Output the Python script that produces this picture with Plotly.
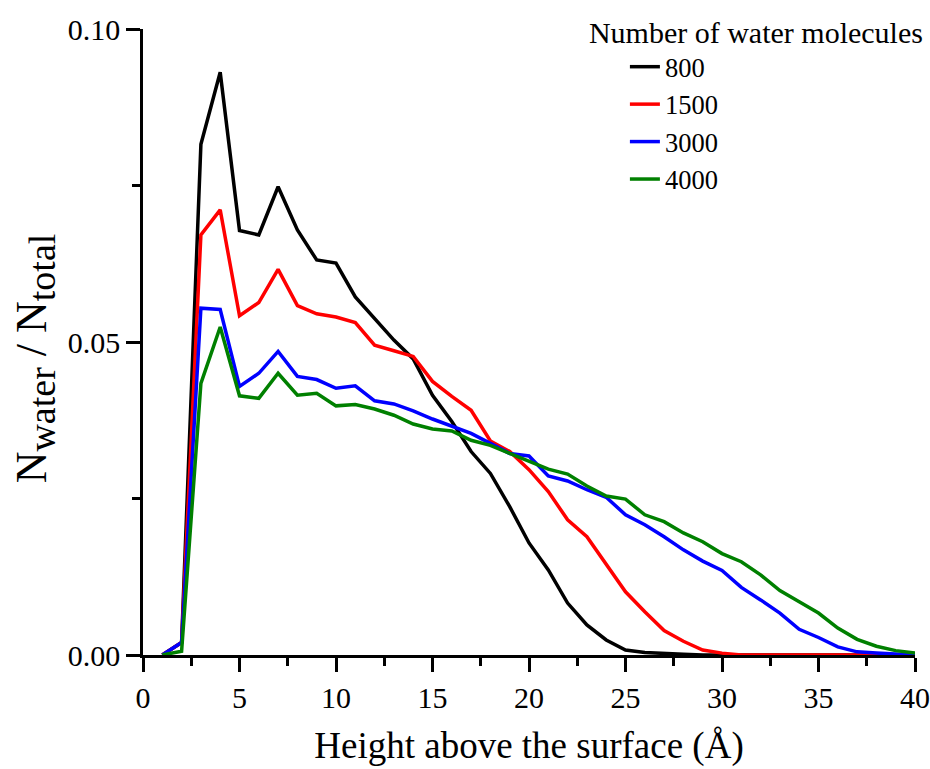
import plotly.graph_objects as go

height = list(range(1, 41))

n800 = [0.0, 0.002, 0.0816, 0.0931, 0.0678, 0.0671, 0.0748, 0.0679, 0.0631, 0.0626,
        0.0572, 0.0538, 0.0503, 0.0473, 0.0415, 0.0373, 0.0325, 0.0290, 0.0237, 0.0179,
        0.0136, 0.0083, 0.0048, 0.0024, 0.0008, 0.0004, 0.0002, 0.0001, 0.0, 0.0,
        0.0, 0.0, 0.0, 0.0, 0.0, 0.0, 0.0, 0.0, 0.0, 0.0]
n1500 = [0.0, 0.002, 0.0671, 0.0711, 0.0542, 0.0563, 0.0616, 0.0558, 0.0545, 0.0540,
         0.0531, 0.0495, 0.0486, 0.0477, 0.0437, 0.0413, 0.0391, 0.0342, 0.0325, 0.0296,
         0.0261, 0.0216, 0.0189, 0.0146, 0.0101, 0.0069, 0.0039, 0.0022, 0.0008, 0.0003,
         0.0, 0.0, 0.0, 0.0, 0.0, 0.0, 0.0, 0.0, 0.0, 0.0]
n3000 = [0.0, 0.002, 0.0554, 0.0552, 0.0429, 0.0450, 0.0485, 0.0445, 0.0440, 0.0426,
         0.0430, 0.0406, 0.0401, 0.0390, 0.0377, 0.0365, 0.0354, 0.0338, 0.0322, 0.0318,
         0.0286, 0.0278, 0.0264, 0.0252, 0.0224, 0.0208, 0.0189, 0.0168, 0.0150, 0.0135,
         0.0108, 0.0088, 0.0067, 0.0041, 0.0028, 0.0013, 0.0005, 0.0003, 0.0001, 0.0]
n4000 = [0.0, 0.0006, 0.0434, 0.0524, 0.0414, 0.0410, 0.0450, 0.0415, 0.0418, 0.0398,
         0.0400, 0.0393, 0.0383, 0.0369, 0.0361, 0.0358, 0.0343, 0.0335, 0.0322, 0.0309,
         0.0297, 0.0289, 0.0270, 0.0254, 0.0249, 0.0224, 0.0213, 0.0195, 0.0181, 0.0162,
         0.0149, 0.0128, 0.0103, 0.0085, 0.0067, 0.0043, 0.0025, 0.0014, 0.0007, 0.0003]

series_names = ["800", "1500", "3000", "4000"]
series_values = [n800, n1500, n3000, n4000]
series_colors = ["#000000", "#FF0000", "#0000FF", "#008000"]

FONT = "Liberation Serif"

fig = go.Figure()
for name, vals, col in zip(series_names, series_values, series_colors):
    fig.add_trace(go.Scatter(x=height, y=vals, mode="lines", name=name,
                             line=dict(color=col, width=3.5)))

ytitle = ('N<sub><span style="font-size:38px">water</span></sub>'
          ' / N<sub><span style="font-size:38px">total</span></sub>&nbsp;&nbsp;&nbsp;')

fig.update_layout(
    width=930, height=769,
    margin=dict(l=143, r=15, t=29, b=114, autoexpand=False),
    plot_bgcolor="white", paper_bgcolor="white",
    font=dict(family=FONT, size=28, color="black"),
    showlegend=True,
    legend=dict(
        title=dict(text="Number of water molecules",
                   font=dict(family=FONT, size=30, color="black"), side="top"),
        x=0.575, y=1.04, xanchor="left", yanchor="top",
        bgcolor="rgba(0,0,0,0)", font=dict(family=FONT, size=26.5, color="black"),
        tracegroupgap=0, indentation=38,
    ),
)
fig.update_xaxes(
    range=[0, 40], tick0=0, dtick=5, ticks="outside", ticklen=14, tickwidth=2.5,
    tickcolor="black", showline=True, linecolor="black", linewidth=2.5,
    showgrid=False, zeroline=False, automargin=False,
    minor=dict(dtick=2.5, ticks="outside", ticklen=8, tickwidth=2.5, tickcolor="black"),
    title=dict(text="Height above the surface (Å)",
               font=dict(family=FONT, size=37, color="black"), standoff=20),
    tickfont=dict(family=FONT, size=30, color="black"),
)
fig.update_yaxes(
    range=[0, 0.1], tick0=0, dtick=0.05, tickformat=".2f", ticks="outside", ticklen=14,
    tickwidth=2.5, tickcolor="black", showline=True, linecolor="black", linewidth=2.5,
    showgrid=False, zeroline=False, automargin=False,
    minor=dict(dtick=0.025, ticks="outside", ticklen=8, tickwidth=2.5, tickcolor="black"),
    title=dict(text=ytitle, font=dict(family=FONT, size=44, color="black"), standoff=8),
    tickfont=dict(family=FONT, size=30, color="black"),
)

fig.write_html("out.html")
